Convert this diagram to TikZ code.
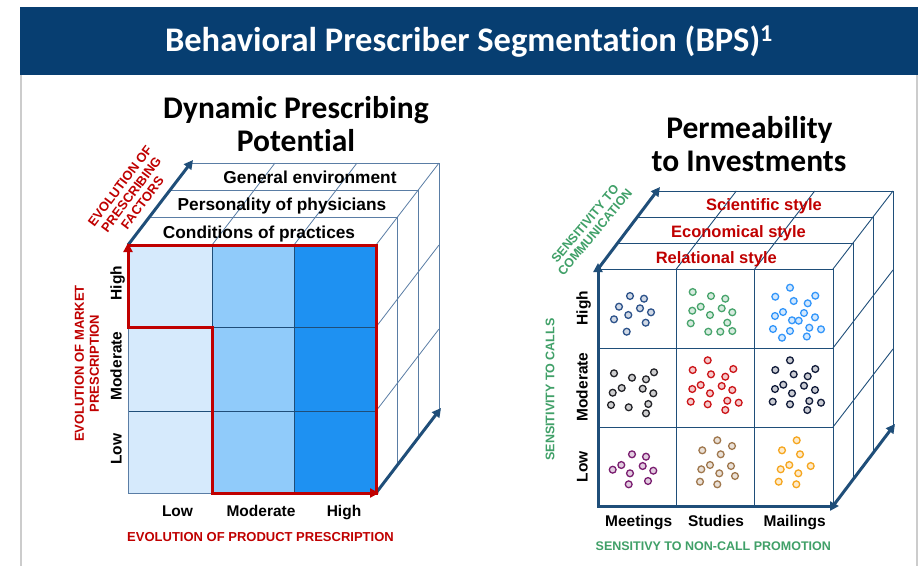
\documentclass[tikz,border=0pt]{standalone}
\usepackage{fontspec}
\setmainfont{Liberation Sans}
\newfontfamily\calibfont[Ligatures=NoCommon,RawFeature={-liga;-clig;-dlig;-calt}]{Carlito}
\usetikzlibrary{arrows.meta}
\definecolor{barblue}{RGB}{7,62,113}
\definecolor{navy}{RGB}{31,78,121}
\definecolor{steel}{RGB}{90,125,165}
\definecolor{dred}{RGB}{192,0,0}
\definecolor{dgreen}{RGB}{64,160,104}
\definecolor{cellA}{RGB}{214,234,252}
\definecolor{cellB}{RGB}{144,203,250}
\definecolor{cellC}{RGB}{30,145,242}
\definecolor{framegray}{RGB}{204,204,204}
\definecolor{dotA}{RGB}{44,82,138}
\definecolor{dotB}{RGB}{72,164,108}
\definecolor{dotC}{RGB}{51,150,250}
\definecolor{dotD}{RGB}{35,35,40}
\definecolor{dotE}{RGB}{204,20,24}
\definecolor{dotF}{RGB}{18,28,58}
\definecolor{dotG}{RGB}{122,30,112}
\definecolor{dotH}{RGB}{160,120,78}
\definecolor{dotI}{RGB}{246,166,30}
\tikzset{
  lab/.style 2 args={inner sep=0pt,text height=#2,text depth=0pt,font=\bfseries\fontsize{#1}{#1}\selectfont},
  facetxtL/.style={lab={17.3pt}{12.4pt}},
  facetxtR/.style={lab={16.5pt}{11.8pt},text=dred},
  axtxt/.style={lab={15.5pt}{11.1pt}},
  redax/.style={lab={13pt}{9.3pt},text=dred},
  greenax/.style={lab={12.5pt}{8.95pt},text=dgreen},
  multilab/.style 2 args={inner sep=0pt,align=center,font=\bfseries\fontsize{#1}{#2}\selectfont},
  heading/.style={inner sep=0pt,anchor=base,font=\calibfont\bfseries\fontsize{31.5pt}{31.5pt}\selectfont},
  cubeL/.style={draw=steel,line width=0.8pt},
  gridL/.style={draw=navy,line width=0.8pt},
  cubeR/.style={draw=navy,line width=0.9pt},
  bigarrow/.style={draw=navy,line width=3pt,-{Triangle[length=9pt,width=9pt]}},
  bigarrows/.style={draw=navy,line width=3pt,{Triangle[length=9pt,width=9pt]}-{Triangle[length=9pt,width=9pt]}},
  redline/.style={draw=dred,line width=3pt,line cap=rect},
  redarrows/.style={draw=dred,line width=3pt,{Triangle[length=9pt,width=9pt]}-{Triangle[length=9pt,width=9pt]}},
  sdot/.style={draw=#1,fill=#1!22!white,line width=1.3pt},
}
\begin{document}
\begin{tikzpicture}[x=1pt,y=-1pt]
\useasboundingbox (0,0) rectangle (924,566);
\fill[white] (0,0) rectangle (924,566);
% title bar
\fill[barblue] (20,7) rectangle (918,75);
\node[inner sep=0pt,text=white,anchor=base,font=\calibfont\bfseries\fontsize{34.5pt}{34.5pt}\selectfont] (title) at (469,51) {Behavioral Prescriber Segmentation (BPS)\textsuperscript{1}};
% frame
\draw[framegray,line width=2.5pt] (21,75) -- (21,566);
\draw[framegray,line width=2.5pt] (917,75) -- (917,566);
% headings
\node[heading] (h1a) at (296,118) {Dynamic Prescribing};
\node[heading] (h1b) at (296,151) {Potential};
\node[heading] (h2a) at (749.5,138) {Permeability};
\node[heading] (h2b) at (749,171.5) {to Investments};

% ================= LEFT CUBE =================
\fill[cellA] (128,245) rectangle (212,493);
\fill[cellB] (212,245) rectangle (294,493);
\fill[cellC] (294,245) rectangle (376,493);
\draw[gridL] (212,245) -- (212,493) (294,245) -- (294,493) (128,327) -- (376,327) (128,411) -- (376,411);
\draw[cubeL] (128,327) -- (128,493) -- (212,493);
\foreach \k in {1,2,3}{
  \draw[cubeL] ({128+21*\k},{245-27.33*\k}) -- ({376+21*\k},{245-27.33*\k}) -- ({376+21*\k},{493-27.33*\k});
}
\foreach \x in {212,294,376} \draw[cubeL] (\x,245) -- ++(63,-82);
\foreach \y in {327,411} \draw[cubeL] (376,\y) -- ++(63,-82);
\draw[bigarrow] (128,245) -- (193,160);
\draw[bigarrow] (376,493) -- (441,408);
% red path
\draw[redline] (128,245) -- (376,245) -- (376,493);
\draw[redarrows] (128,243) -- (128,327) -- (212,327) -- (212,493) -- (379,493);
% left cube texts
\node[facetxtL] (ge) at (310,177) {General environment};
\node[facetxtL] (pp) at (282,204) {Personality of physicians};
\node[facetxtL] (cp) at (259,232) {Conditions of practices};
\node[axtxt,rotate=90] (lh) at (116,283) {High};
\node[axtxt,rotate=90] (lmo) at (116,366) {Moderate};
\node[axtxt,rotate=90] (ll) at (116,449) {Low};
\node[axtxt] (bl) at (177.5,510.5) {Low};
\node[axtxt] (bm) at (261,510.5) {Moderate};
\node[axtxt] (bh) at (344,510.5) {High};
\node[redax] (epp) at (260.5,537) {EVOLUTION OF PRODUCT PRESCRIPTION};
\node[multilab={13pt}{15pt},text=dred,rotate=90] (emp) at (87,363.5) {EVOLUTION OF MARKET\\PRESCRIPTION};
\node[multilab={13pt}{14pt},text=dred,rotate=53] (epf) at (131.2,194.4) {EVOLUTION OF\\PRESCRIBING\\FACTORS};

% ================= RIGHT CUBE =================
\draw[cubeR] (598,269) rectangle (833,506);
\draw[cubeR] (676.3,269) -- (676.3,506) (754.7,269) -- (754.7,506) (598,348) -- (833,348) (598,427) -- (833,427);
\foreach \k in {1,2,3}{
  \draw[cubeR] ({598+20*\k},{269-26*\k}) -- ({833+20*\k},{269-26*\k}) -- ({833+20*\k},{506-26*\k});
}
\foreach \x in {676.3,754.7,833} \draw[cubeR] (\x,269) -- ++(60,-78);
\foreach \y in {348,427} \draw[cubeR] (833,\y) -- ++(60,-78);
\draw[bigarrows] (598,263) -- (598,506) -- (839,506);
\draw[bigarrow] (598,269) -- (660,187);
\draw[bigarrow] (833,506) -- (895,424);
% dots
\foreach \p in {(630,296),(644,298.7),(619,306.7),(640,308.3),(651,312.3),(628.3,315),(614,319.3),(645.7,322.7),(626.7,331.7)}
  \draw[sdot=dotA] \p circle[radius=3.4pt];
\foreach \p in {(692.7,292),(711,296),(725.3,298.7),(700.7,306.7),(692.3,310.7),(721.7,308.3),(732.3,312.3),(710,315),(690.7,323.3),(727.3,322.7),(708.3,331.7),(720.3,331.7),(732.3,331)}
  \draw[sdot=dotB] \p circle[radius=3.4pt];
\foreach \p in {(790,287.7),(775.3,296.7),(815.3,295.7),(793.7,301),(807.7,303.3),(775,316),(783,312),(792,320.3),(804,313),(815,317.3),(798.7,320.7),(773,329),(790,331),(809.3,327.7),(821,329.3),(782,337.7),(806.8,336.5)}
  \draw[sdot=dotC] \p circle[radius=3.4pt];
\foreach \p in {(614,373.3),(632,377.7),(646,379.3),(654,372.3),(621.7,388),(612.7,392.7),(642.7,388.7),(653.3,393.3),(611,405),(628.7,407.3),(648.3,404),(646,413.3)}
  \draw[sdot=dotD] \p circle[radius=3.4pt];
\foreach \p in {(707.7,360.3),(692.7,370),(733.3,369),(711,374.3),(725.3,376.7),(700.7,385),(692.3,389),(721.7,386),(732.3,390),(710,393.3),(690.7,401.7),(707.7,404.3),(727.3,400.7),(738.7,402.7),(725.3,410)}
  \draw[sdot=dotE] \p circle[radius=3.4pt];
\foreach \p in {(790,360.3),(775.3,370),(815.3,369),(793.7,374.3),(807.7,376.3),(783.3,384.7),(775,389),(804,385.7),(792,393.3),(815,390),(772.7,401.7),(790,404.3),(809.3,401),(821,402.7),(807.3,410)}
  \draw[sdot=dotF] \p circle[radius=3.4pt];
\foreach \p in {(632,454.3),(646,456.7),(621.3,465),(612.7,469.7),(642.7,466),(653.3,470.7),(630,473.3),(648,481),(628.7,484.3)}
  \draw[sdot=dotG] \p circle[radius=3.4pt];
\foreach \p in {(717.3,440.3),(732,446),(702.3,450.3),(720.7,454.3),(710,465),(701.3,469.3),(731,466),(719.3,473.3),(735,476),(700,481.7),(717.3,484.3)}
  \draw[sdot=dotH] \p circle[radius=3.4pt];
\foreach \p in {(796.7,440.3),(782,450.3),(800,454.3),(789.3,465),(780.7,469.3),(810.7,466),(798.3,473.3),(778.7,481.7),(796.3,484.3)}
  \draw[sdot=dotI] \p circle[radius=3.4pt];
% right cube texts
\node[facetxtR] (ss) at (764,205) {Scientific style};
\node[facetxtR] (es) at (738.5,231.5) {Economical style};
\node[facetxtR] (rs) at (716.3,257.5) {Relational style};
\node[axtxt,rotate=90] (rh) at (582,308) {High};
\node[axtxt,rotate=90] (rmo) at (582,387) {Moderate};
\node[axtxt,rotate=90] (rl) at (582,466.7) {Low};
\node[axtxt] (mt) at (638.7,521) {Meetings};
\node[axtxt] (st) at (716,521) {Studies};
\node[axtxt] (ml) at (794.7,521) {Mailings};
\node[greenax] (snc) at (713.3,546) {SENSITIVY TO NON-CALL PROMOTION};
\node[greenax,rotate=90] (sca) at (550,389.5) {SENSITIVITY TO CALLS};
\node[multilab={12.5pt}{13pt},text=dgreen,rotate=50] (stc) at (590,228) {SENSITIVITY TO\\COMMUNICATION};
\end{tikzpicture}
\end{document}
